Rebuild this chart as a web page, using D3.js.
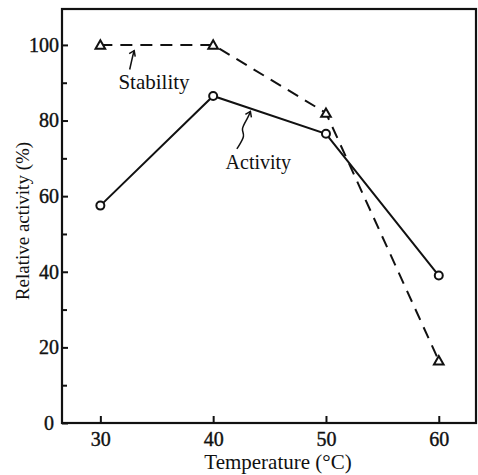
<!DOCTYPE html>
<html>
<head>
<meta charset="utf-8">
<script src="https://cdn.jsdelivr.net/npm/d3@7"></script>
<style>
  body { margin: 0; background: #fff; }
  svg text { font-family: 'Liberation Serif', 'DejaVu Serif', serif; fill: #111; }
</style>
</head>
<body>
<div id="wrapper"></div>
<script>
const temperatures = [30, 40, 50, 60]
const activity = [57.5, 86.5, 76.5, 39]
const stability = [100, 100, 82, 16.5]
const xTicks = [30, 40, 50, 60]
const yTicks = [0, 20, 40, 60, 80, 100]
const yMinorTicks = [10, 30, 50, 70, 90]
// annotation arrows, in data units
const stabilityArrow = [[32.6, 93.5], [32.9, 97.5], [33.0, 98.5]]
const activityArrow = [[42.1, 72.5], [42.9, 76.2], [42.4, 77.5], [43.1, 80.8], [43.3, 82.4]]

const dimensions = {
  width: 478,
  height: 475,
  margin: { top: 9, right: 2, bottom: 52, left: 62 },
}
dimensions.boundedWidth = dimensions.width - dimensions.margin.left - dimensions.margin.right
dimensions.boundedHeight = dimensions.height - dimensions.margin.top - dimensions.margin.bottom

const wrapper = d3
  .select('#wrapper')
  .append('svg')
  .attr('width', dimensions.width)
  .attr('height', dimensions.height)

const bounds = wrapper
  .append('g')
  .attr('transform', `translate(${dimensions.margin.left}, ${dimensions.margin.top})`)

const xScale = d3.scaleLinear().domain([26.6, 63.3]).range([0, dimensions.boundedWidth])
const yScale = d3.scaleLinear().domain([0, 109.5]).range([dimensions.boundedHeight, 0])

// frame
bounds
  .append('rect')
  .attr('width', dimensions.boundedWidth)
  .attr('height', dimensions.boundedHeight)
  .attr('fill', 'none')
  .attr('stroke', '#111')
  .attr('stroke-width', 2.2)

// axes, ticks pointing inward
const yAxis = bounds
  .append('g')
  .call(d3.axisLeft(yScale).tickValues(yTicks).tickSizeInner(-6).tickSizeOuter(0).tickPadding(3))
const yMinor = bounds
  .append('g')
  .call(d3.axisLeft(yScale).tickValues(yMinorTicks).tickSizeInner(-5).tickSizeOuter(0).tickFormat(''))
const xAxis = bounds
  .append('g')
  .attr('transform', `translate(0, ${dimensions.boundedHeight})`)
  .call(d3.axisBottom(xScale).tickValues(xTicks).tickSizeInner(-7).tickSizeOuter(0).tickPadding(9))

;[yAxis, yMinor, xAxis].forEach((a) => {
  a.select('.domain').remove()
  a.selectAll('line').attr('stroke', '#111').attr('stroke-width', 2)
  a.selectAll('text')
    .style('font-size', '20px')
    .attr('fill', '#111')
    .attr('stroke', '#111')
    .attr('stroke-width', 0.4)
})
yAxis.selectAll('text').filter((d) => d === 0).attr('dx', -5)

// lines
const line = (values) =>
  d3
    .line()
    .x((d, i) => xScale(temperatures[i]))
    .y((d) => yScale(d))(values)

bounds
  .append('path')
  .attr('d', line(stability))
  .attr('fill', 'none')
  .attr('stroke', '#111')
  .attr('stroke-width', 2)
  .attr('stroke-dasharray', '12 8')

bounds
  .append('path')
  .attr('d', line(activity))
  .attr('fill', 'none')
  .attr('stroke', '#111')
  .attr('stroke-width', 2)

// markers
bounds
  .append('g')
  .selectAll('circle')
  .data(activity)
  .enter()
  .append('circle')
  .attr('cx', (d, i) => xScale(temperatures[i]))
  .attr('cy', (d) => yScale(d))
  .attr('r', 4)
  .attr('fill', '#fff')
  .attr('stroke', '#111')
  .attr('stroke-width', 2)

bounds
  .append('g')
  .selectAll('path')
  .data(stability)
  .enter()
  .append('path')
  .attr('d', d3.symbol(d3.symbolTriangle, 40))
  .attr('transform', (d, i) => `translate(${xScale(temperatures[i])}, ${yScale(d) + 1})`)
  .attr('fill', '#fff')
  .attr('stroke', '#111')
  .attr('stroke-width', 2)

// labels + arrows
const arrowLine = d3
  .line()
  .x((d) => xScale(d[0]))
  .y((d) => yScale(d[1]))
  .curve(d3.curveBasis)

const drawArrow = (pts) => {
  bounds
    .append('path')
    .attr('d', arrowLine(pts))
    .attr('fill', 'none')
    .attr('stroke', '#111')
    .attr('stroke-width', 1.5)
  const tip = pts[pts.length - 1]
  const [tx, ty] = [xScale(tip[0]), yScale(tip[1])]
  bounds
    .append('path')
    .attr('d', `M${tx - 5},${ty + 3} L${tx},${ty} L${tx + 1},${ty + 6}`)
    .attr('fill', 'none')
    .attr('stroke', '#111')
    .attr('stroke-width', 1.5)
}
drawArrow(stabilityArrow)
drawArrow(activityArrow)

bounds
  .append('text')
  .attr('x', xScale(31.6))
  .attr('y', yScale(88.4))
  .style('font-size', '21px')
  .text('Stability')

bounds
  .append('text')
  .attr('x', xScale(41.1))
  .attr('y', yScale(67.3))
  .style('font-size', '20px')
  .text('Activity')

// axis titles
wrapper
  .append('text')
  .attr('transform', `translate(29, 221) rotate(-90)`)
  .attr('text-anchor', 'middle')
  .style('font-size', '19px')
  .text('Relative activity (%)')

wrapper
  .append('text')
  .attr('x', 278)
  .attr('y', 469)
  .attr('text-anchor', 'middle')
  .style('font-size', '21px')
  .text('Temperature (°C)')
</script>
</body>
</html>
